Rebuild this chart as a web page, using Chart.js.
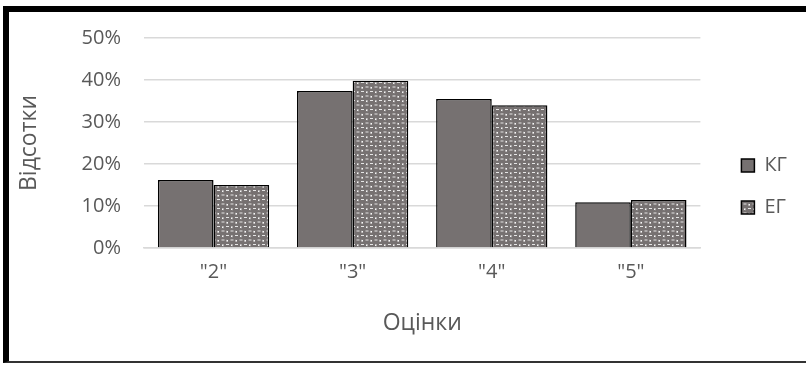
<!DOCTYPE html>
<html>
<head>
<meta charset="utf-8">
<script src="https://cdn.jsdelivr.net/npm/chart.js@4"></script>
<style>
  html, body { margin: 0; padding: 0; background: #fff; overflow: hidden; }
  #wrap { position: relative; width: 806px; height: 365px; }
  #frame {
    position: absolute; left: 3px; top: 6px; width: 820px; height: 349px;
    border-top: 6px solid #000; border-left: 6px solid #000; border-bottom: 2px solid #333;
    pointer-events: none;
  }
</style>
</head>
<body>
<div id="wrap">
  <canvas id="chart" width="806" height="365"></canvas>
  <div id="frame"></div>
</div>
<script>
const categories = ['"2"', '"3"', '"4"', '"5"'];
const kgValues = [16.2, 37.4, 35.5, 10.9];
const egValues = [15.0, 39.8, 34.0, 11.4];
const yTicks = [0, 10, 20, 30, 40, 50];

const GRAY = "#767171";
const TEXT = "#595959";
const FONT = "'Open Sans', 'Noto Sans', sans-serif";

// sphere-like pattern for the ЕГ bars
const makePattern = () => {
    const c = document.createElement("canvas");
    c.width = 9; c.height = 9;
    const g = c.getContext("2d");
    g.fillStyle = "#fff";
    g.fillRect(0, 0, 9, 9);
    g.fillStyle = GRAY;
    [[2.25, 2.25], [6.75, 6.75], [-2.25, 6.75], [6.75, -2.25], [2.25, 11.25], [11.25, 2.25]].forEach(([x, y]) => {
        g.beginPath();
        g.arc(x, y, 3.8, 0, Math.PI * 2);
        g.fill();
    });
    g.fillStyle = "#e6e6e6";
    g.fillRect(1, 1, 3, 1);
    g.fillRect(5.5, 5.5, 3, 1);
    return g.createPattern(c, "repeat");
};

// move the legend a bit away from the plot and up, like the original
const legendShift = {
    id: "legendShift",
    afterLayout(chart) {
        const lg = chart.legend;
        lg.left += 19;
        lg.right += 19;
        lg.top -= 15;
        lg.bottom -= 15;
    }
};

Chart.defaults.font.family = FONT;
Chart.defaults.color = TEXT;

const ctx = document.getElementById("chart").getContext("2d");
new Chart(ctx, {
    type: "bar",
    data: {
        labels: categories,
        datasets: [
            { label: "КГ", data: kgValues, backgroundColor: GRAY, borderColor: "#000", borderWidth: 1.5 },
            { label: "ЕГ", data: egValues, backgroundColor: makePattern(), borderColor: "#000", borderWidth: 1.5 }
        ]
    },
    plugins: [legendShift],
    options: {
        responsive: false,
        animation: false,
        layout: { padding: { left: 0, top: 38, right: 28, bottom: 0 } },
        datasets: { bar: { categoryPercentage: 0.8, barPercentage: 1.0 } },
        plugins: {
            legend: {
                position: "right",
                labels: { boxWidth: 13, boxHeight: 13, padding: 22, font: { size: 20 }, color: TEXT }
            },
            tooltip: { enabled: false }
        },
        scales: {
            x: {
                afterFit: (s) => { s.height = 117; },
                grid: { display: false, drawTicks: false },
                border: { color: "#d9d9d9", width: 1.5 },
                ticks: { font: { size: 20 }, padding: 12 },
                title: { display: true, text: "Оцінки", font: { size: 23 }, padding: { top: 0, bottom: 28 } }
            },
            y: {
                min: 0, max: 50,
                afterFit: (s) => { s.width = 144; },
                afterBuildTicks: (s) => { s.ticks = yTicks.map(v => ({ value: v })); },
                grid: { color: "#d9d9d9", lineWidth: 1.5, drawTicks: false },
                border: { display: false },
                ticks: { font: { size: 20 }, padding: 23, callback: (v) => v + "%" },
                title: { display: true, text: "Відсотки", font: { size: 23 }, padding: { top: 16, bottom: 0 } }
            }
        }
    }
});
</script>
</body>
</html>
